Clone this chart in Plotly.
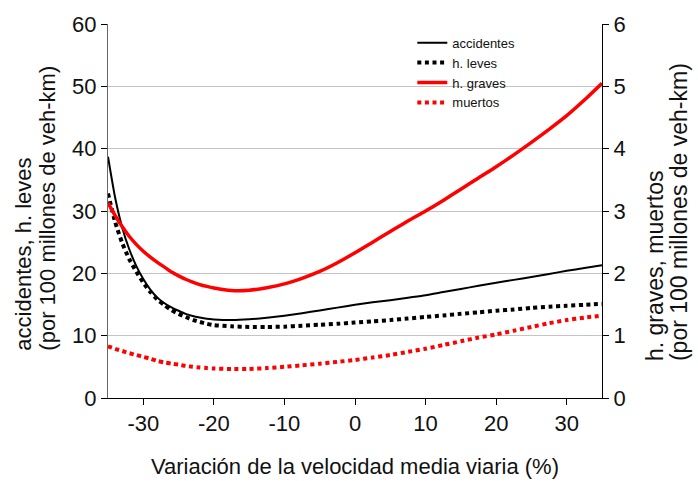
import plotly.graph_objects as go

x = [-35, -34, -33, -32, -31, -30, -29, -28, -27, -26, -25, -24, -23, -22, -21, -20,
     -17.5, -15, -12.5, -10, -7.5, -5, -2.5, 0, 2.5, 5, 7.5, 10, 12.5, 15, 17.5, 20,
     22.5, 25, 27.5, 30, 32.5, 35]

accidentes = [38.7, 32.2, 27.4, 23.9, 21.2, 19.1, 17.4, 16.1, 15.2, 14.55, 14.0, 13.5, 13.15, 12.9, 12.7, 12.6,
              12.5, 12.62, 12.88, 13.2, 13.6, 14.05, 14.5, 14.95, 15.35, 15.7, 16.1, 16.5,
              17.0, 17.5, 18.0, 18.5, 18.95, 19.4, 19.9, 20.4, 20.85, 21.3]
h_leves = [32.8, 28.3, 24.9, 22.3, 20.3, 18.5, 17.0, 15.8, 14.9, 14.1, 13.5, 13.0, 12.55, 12.2, 11.9, 11.7,
           11.5, 11.4, 11.4, 11.45, 11.6, 11.75, 11.9, 12.1, 12.3, 12.5, 12.75, 13.0,
           13.25, 13.5, 13.75, 14.0, 14.2, 14.45, 14.65, 14.8, 14.95, 15.1]
h_graves = [3.13, 2.93, 2.75, 2.595, 2.465, 2.355, 2.26, 2.175, 2.10, 2.02, 1.96, 1.905, 1.86, 1.82, 1.79, 1.765,
            1.725, 1.73, 1.77, 1.83, 1.92, 2.03, 2.17, 2.33, 2.50, 2.67, 2.84, 3.00,
            3.17, 3.35, 3.53, 3.71, 3.90, 4.10, 4.31, 4.53, 4.78, 5.05]
muertos = [0.83, 0.79, 0.755, 0.72, 0.69, 0.66, 0.63, 0.595, 0.57, 0.552, 0.535, 0.515, 0.50, 0.49, 0.48, 0.473,
           0.465, 0.465, 0.48, 0.50, 0.525, 0.55, 0.58, 0.61, 0.65, 0.69, 0.74, 0.79,
           0.85, 0.91, 0.97, 1.02, 1.08, 1.14, 1.20, 1.25, 1.29, 1.32]

x_ticks = [-30, -20, -10, 0, 10, 20, 30]
x_ticklabels = ["-30", "-20", "-10", "0", "10", "20", "30"]

FONT = "Arial, Liberation Sans, sans-serif"
TXT = "#111111"

fig = go.Figure()
fig.add_trace(go.Scatter(x=x, y=accidentes, name="accidentes", mode="lines",
                         line=dict(color="black", width=2, shape="spline", smoothing=0.6)))
fig.add_trace(go.Scatter(x=x, y=h_leves, name="h. leves", mode="lines",
                         line=dict(color="black", width=4, dash="4px,3.6px", shape="spline", smoothing=0.6)))
fig.add_trace(go.Scatter(x=x, y=h_graves, name="h. graves", mode="lines", yaxis="y2",
                         line=dict(color="#ff0000", width=3.5, shape="spline", smoothing=0.6)))
fig.add_trace(go.Scatter(x=x, y=muertos, name="muertos", mode="lines", yaxis="y2",
                         line=dict(color="#ff0000", width=4, dash="4px,3.6px", shape="spline", smoothing=0.6)))

# plot area: x 108..602 px, y 20.7..398.3 px
def px_x(p):
    return (p - 108) / 494.0

def px_y(p):
    return (398.3 - p) / 377.6

def title_ann(text, xp, yp, size, angle=-90, yanchor="bottom"):
    return dict(text=text, x=px_x(xp), y=px_y(yp), textangle=angle,
                xref="paper", yref="paper", xanchor="center", yanchor=yanchor, showarrow=False,
                font=dict(size=size, family=FONT, color=TXT))

annotations = [
    title_ann("Variación de la velocidad media viaria (%)", 355, 467, 22, angle=0, yanchor="middle"),
    title_ann("accidentes, h. leves", 24, 353, 22),
    title_ann("(por 100 millones de veh-km)", 48, 353, 22),
    title_ann("h. graves, muertos", 655, 363, 23),
    title_ann("(por 100 millones de veh-km)", 679, 363, 23),
]

fig.update_layout(
    width=698, height=481,
    margin=dict(l=108, r=96, t=21, b=83),
    paper_bgcolor="white", plot_bgcolor="white",
    font=dict(family=FONT, color=TXT, size=22),
    showlegend=True,
    legend=dict(x=0.616, y=0.990, xanchor="left", yanchor="top",
                font=dict(size=13, family=FONT, color=TXT), bgcolor="rgba(0,0,0,0)",
                tracegroupgap=0, itemwidth=30),
    annotations=annotations,
    xaxis=dict(range=[-35, 35], tickvals=x_ticks, ticktext=x_ticklabels,
               showgrid=False, zeroline=False, showline=True, linecolor="black", linewidth=1,
               ticks="outside", ticklen=6, tickcolor="black",
               tickfont=dict(size=22)),
    yaxis=dict(range=[0, 60], dtick=10, showgrid=True, gridcolor="#c4c4c4", gridwidth=1,
               zeroline=False, showline=True, linecolor="#666666", linewidth=1,
               ticks="outside", ticklen=6, tickcolor="black",
               tickfont=dict(size=22)),
    yaxis2=dict(range=[0, 6], dtick=1, overlaying="y", side="right", showgrid=False,
                zeroline=False, showline=True, linecolor="black", linewidth=1,
                ticks="outside", ticklen=6, tickcolor="black",
                tickfont=dict(size=22)),
)

fig.write_html("out.html")
